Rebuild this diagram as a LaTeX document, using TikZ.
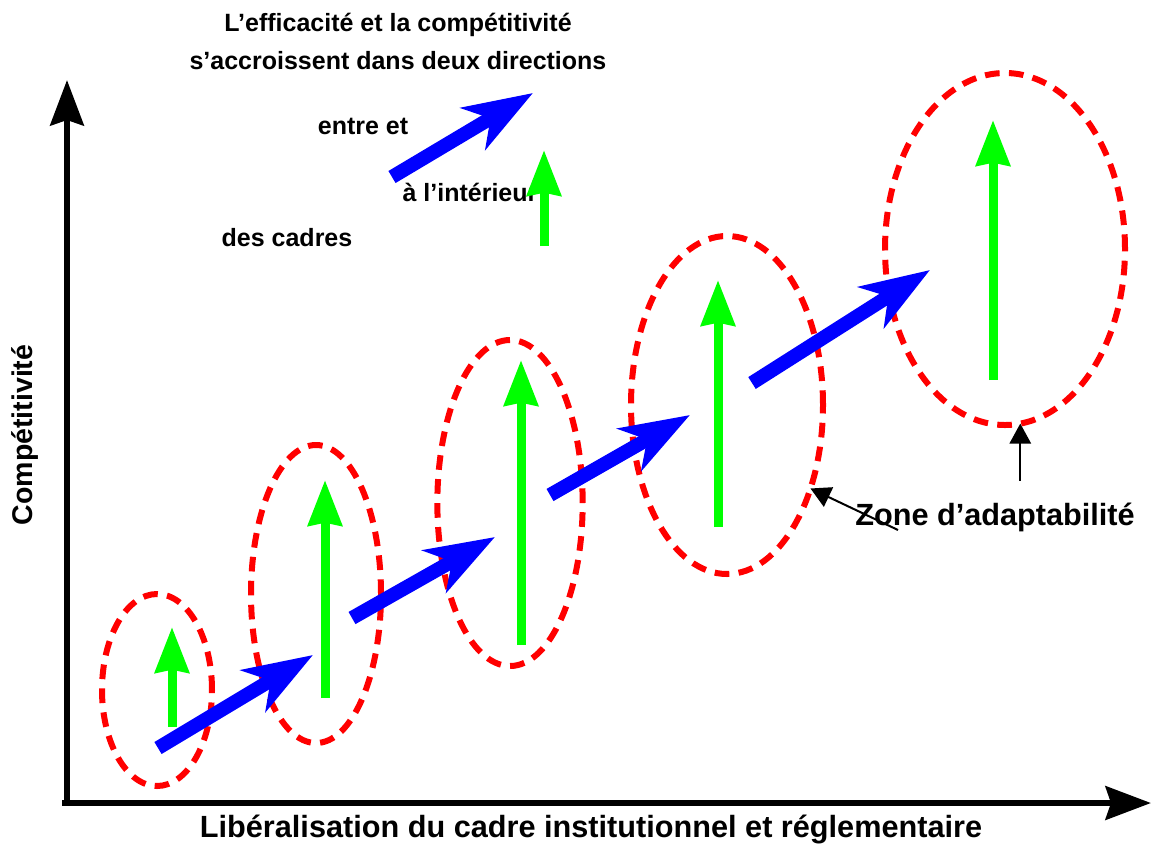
\documentclass[tikz,border=0pt]{standalone}
\usepackage{fontspec}
\setmainfont{Liberation Sans}
\usetikzlibrary{arrows.meta, shapes.geometric}
\definecolor{cZONE}{HTML}{FF0000}
\definecolor{cSTEP}{HTML}{0000FF}
\definecolor{cRISE}{HTML}{00FF00}

\begin{document}
\begin{tikzpicture}[
  x=0.75pt, y=-0.75pt,
  font=\bfseries\fontsize{18.75pt}{28.5pt}\selectfont,
  zone/.style={draw=cZONE, ellipse, line width=4.5pt, dash pattern=on 11pt off 7pt, inner sep=0pt, outer sep=0pt},
  between/.style={draw=cSTEP, line width=10.5pt, -{Stealth[length=52pt, width=36pt, inset=15pt]}},
  within/.style={draw=cRISE, line width=6.75pt, -{Stealth[length=34pt, width=25pt, inset=2pt]}},
  axis/.style={line width=5pt, -{Stealth[length=34pt, width=25pt, inset=4pt]}},
  pointer/.style={line width=1.5pt, -{Triangle[length=15pt, width=16pt]}},
  lbl/.style={inner sep=0pt, align=center},
  big/.style={lbl, font=\bfseries\fontsize{23pt}{28pt}\selectfont}
]
\useasboundingbox (0,0) rectangle (1152,847);

\node[zone, minimum width=82.5pt, minimum height=144pt]  (z1) at (157,690) {};
\node[zone, minimum width=97.5pt, minimum height=223.5pt] (z2) at (316,594) {};
\node[zone, minimum width=109pt, minimum height=244.5pt] (z3) at (510,503) {};
\node[zone, minimum width=144pt, minimum height=253.5pt] (z4) at (727,405) {};
\node[zone, minimum width=180pt, minimum height=264pt]  (z5) at (1005,249) {};

\draw[axis] (67,805) -- (67,80);
\draw[axis] (62,803) -- (1151,803);

\draw[within] (172,727) -- (172,627);
\draw[within] (325,698) -- (325,480);
\draw[within] (521,645) -- (521,360);
\draw[within] (718,527) -- (718,280);
\draw[within] (993,380) -- (993,120);

\draw[between] (158,748) -- (313,655);
\draw[between] (352,618) -- (495,537);
\draw[between] (550,495) -- (690,415);
\draw[between] (752,383) -- (930,270);

% legend
\node[lbl] (title)  at (398,41)  {L’efficacité et la compétitivité\\s’accroissent dans deux directions};
\node[lbl] (entre)  at (363,126) {entre et};
\node[lbl] (inter)  at (470,192) {à l’intérieur};
\node[lbl] (cadres) at (287,238) {des cadres};
\draw[between] (392,177) -- (533,93);
\draw[within] (544,246) -- (544,150);

\node[big] (adapt) at (995,517) {Zone d’adaptabilité};
\coordinate (foot) at (adapt.north -| z5.-85);
\draw[pointer] ([shift={(43,13)}]adapt.west) -- (z4.-45);
\draw[pointer] ([yshift=16pt]foot) -- (z5.-85);

\node[lbl, rotate=90, font=\bfseries\fontsize{21.4pt}{26pt}\selectfont] (ylab) at (25,435) {Compétitivité};
\node[big] (xlab) at (591,829) {Libéralisation du cadre institutionnel et réglementaire};
\end{tikzpicture}
\end{document}
